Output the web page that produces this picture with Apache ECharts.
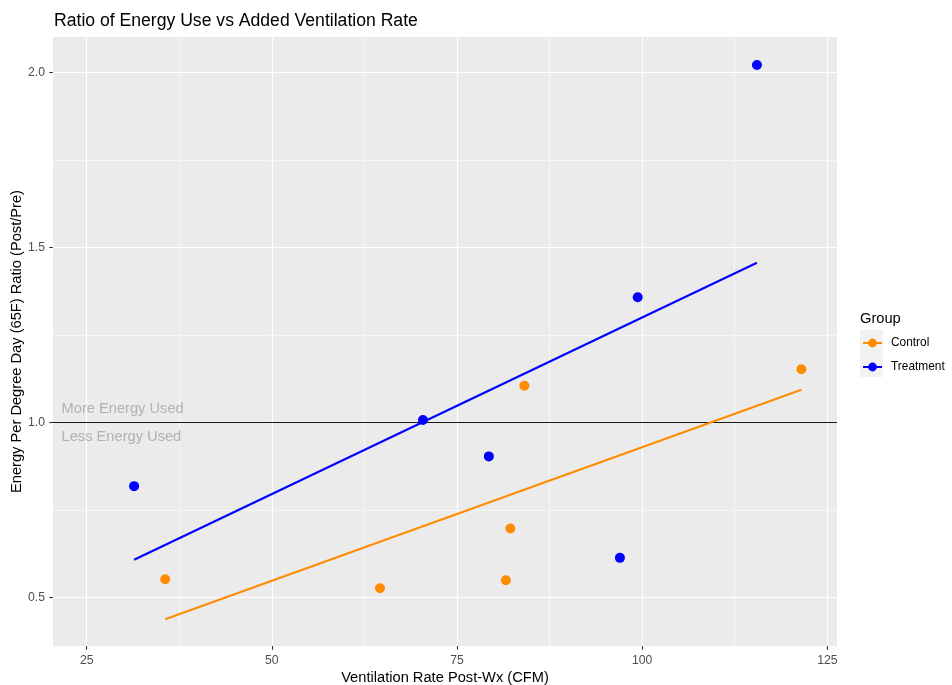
<!DOCTYPE html>
<html>
<head>
<meta charset="utf-8">
<script src="https://cdn.jsdelivr.net/npm/echarts@6/dist/echarts.min.js"></script>
<style>
  html, body { margin: 0; padding: 0; background: #ffffff; }
  #chart { width: 952px; height: 685px; }
</style>
</head>
<body>
<div id="chart"></div>
<script>
// Ventilation rate after weatherization (CFM) and the post/pre energy ratio per home
const groups = ['Control', 'Treatment'];
const controlVent = [35.6, 64.6, 81.6, 82.2, 84.1, 121.5];
const controlRatio = [0.552, 0.526, 0.549, 0.697, 1.105, 1.152];
const treatmentVent = [31.4, 70.4, 79.3, 97.0, 99.4, 115.5];
const treatmentRatio = [0.818, 1.007, 0.903, 0.613, 1.358, 2.022];

const xTicks = [25, 50, 75, 100, 125];
const xMinor = [37.5, 62.5, 87.5, 112.5];
const yTicks = [0.5, 1.0, 1.5, 2.0];
const yMinor = [0.75, 1.25, 1.75];
const baseline = 1.0;
const notes = ['More Energy Used', 'Less Energy Used'];

const FONT = "'Liberation Sans', Arial, sans-serif";
const colors = { Control: '#FF8C00', Treatment: '#0000FF' };

// ordinary least-squares fit, evaluated over the group's x range
function fitLine(xs, ys) {
  const n = xs.length;
  const mx = xs.reduce((a, b) => a + b, 0) / n;
  const my = ys.reduce((a, b) => a + b, 0) / n;
  let sxy = 0, sxx = 0;
  for (let i = 0; i < n; i++) {
    sxy += (xs[i] - mx) * (ys[i] - my);
    sxx += (xs[i] - mx) * (xs[i] - mx);
  }
  const slope = sxy / sxx;
  const lo = Math.min(...xs), hi = Math.max(...xs);
  return [[lo, my + slope * (lo - mx)], [hi, my + slope * (hi - mx)]];
}
const zip = (xs, ys) => xs.map((x, i) => [x, ys[i]]);

const chart = echarts.init(document.getElementById('chart'), null, { renderer: 'canvas' });

const gridLines = [].concat(
  xTicks.map(v => ({ xAxis: v, lineStyle: { width: 1.1 } })),
  xMinor.map(v => ({ xAxis: v, lineStyle: { width: 0.55 } })),
  yTicks.map(v => ({ yAxis: v, lineStyle: { width: 1.1 } })),
  yMinor.map(v => ({ yAxis: v, lineStyle: { width: 0.55 } }))
);

const axisCommon = {
  type: 'value',
  axisLine: { show: false },
  splitLine: { show: false },
  axisTick: { show: true, length: 3.7, lineStyle: { color: '#333333', width: 1.1 } },
  axisLabel: { color: '#4D4D4D', fontFamily: FONT, fontSize: 12.2 },
  nameMoveOverlap: false,
  nameTextStyle: { color: '#000000', fontFamily: FONT, fontSize: 14.67 }
};

const option = {
  backgroundColor: '#ffffff',
  animation: false,
  title: [
    {
      text: 'Ratio of Energy Use vs Added Ventilation Rate',
      left: 49, top: 7,
      textStyle: { color: '#000000', fontFamily: FONT, fontSize: 17.6, fontWeight: 'normal' }
    },
    {
      text: 'Group',
      left: 855, top: 306,
      textStyle: { color: '#000000', fontFamily: FONT, fontSize: 14.67, fontWeight: 'normal' }
    }
  ],
  graphic: [
    // key background
    { type: 'rect', left: 860, top: 330, shape: { width: 23, height: 47 }, style: { fill: '#F2F2F2' }, z: -1 }
  ],
  legend: {
    data: groups,
    orient: 'vertical',
    left: 857, top: 332,
    itemWidth: 19, itemHeight: 11, itemGap: 12,
    textStyle: { color: '#000000', fontFamily: FONT, fontSize: 11.9, padding: [0, 0, 0, 4] },
    selectedMode: false
  },
  grid: {
    left: 53, top: 37, right: 115, bottom: 39,
    outerBoundsMode: 'none', containLabel: false,
    backgroundColor: '#EBEBEB', show: true, borderWidth: 0
  },
  xAxis: Object.assign({}, axisCommon, {
    min: 20.45, max: 126.31,
    name: 'Ventilation Rate Post-Wx (CFM)',
    nameLocation: 'middle', nameGap: 24,
    axisTick: Object.assign({}, axisCommon.axisTick, { customValues: xTicks }),
    axisLabel: Object.assign({}, axisCommon.axisLabel, { customValues: xTicks, margin: 9 })
  }),
  yAxis: Object.assign({}, axisCommon, {
    min: 0.361, max: 2.102,
    name: 'Energy Per Degree Day (65F) Ratio (Post/Pre)',
    nameLocation: 'middle', nameGap: 29, nameRotate: 90,
    axisTick: Object.assign({}, axisCommon.axisTick, { customValues: yTicks }),
    axisLabel: Object.assign({}, axisCommon.axisLabel, {
      customValues: yTicks, margin: 8,
      formatter: v => v.toFixed(1)
    })
  }),
  series: [
    {
      // panel grid lines
      type: 'line', name: 'grid', data: [], z: 1, silent: true,
      markLine: {
        z: 1, silent: true, symbol: 'none', animation: false,
        label: { show: false },
        lineStyle: { color: '#FFFFFF', type: 'solid' },
        data: gridLines
      }
    },
    {
      // no-change reference line
      type: 'line', name: 'ref', data: [], z: 2, silent: true,
      markLine: {
        z: 2, silent: true, symbol: 'none', animation: false,
        label: { show: false },
        lineStyle: { color: '#1A1A1A', type: 'solid', width: 1.1 },
        data: [{ yAxis: baseline }]
      }
    },
    {
      type: 'scatter', name: 'notes', z: 3, silent: true,
      symbolSize: 0,
      data: [
        { value: [21.6, 1.04], name: notes[0] },
        { value: [21.6, 0.959], name: notes[1] }
      ],
      label: {
        show: true, position: 'right', distance: 0,
        formatter: p => p.name,
        color: '#A3A3A3', fontFamily: FONT, fontSize: 14.67
      }
    },
    {
      type: 'line', name: 'Control', z: 4,
      data: fitLine(controlVent, controlRatio),
      showSymbol: false, symbol: 'circle',
      lineStyle: { color: colors.Control, width: 2.1 },
      itemStyle: { color: colors.Control }
    },
    {
      type: 'line', name: 'Treatment', z: 4,
      data: fitLine(treatmentVent, treatmentRatio),
      showSymbol: false, symbol: 'circle',
      lineStyle: { color: colors.Treatment, width: 2.1 },
      itemStyle: { color: colors.Treatment }
    },
    {
      type: 'scatter', name: 'Control', z: 5,
      data: zip(controlVent, controlRatio),
      symbol: 'circle', symbolSize: 10,
      itemStyle: { color: colors.Control, opacity: 1 }
    },
    {
      type: 'scatter', name: 'Treatment', z: 5,
      data: zip(treatmentVent, treatmentRatio),
      symbol: 'circle', symbolSize: 10,
      itemStyle: { color: colors.Treatment, opacity: 1 }
    }
  ]
};

chart.setOption(option);
</script>
</body>
</html>
